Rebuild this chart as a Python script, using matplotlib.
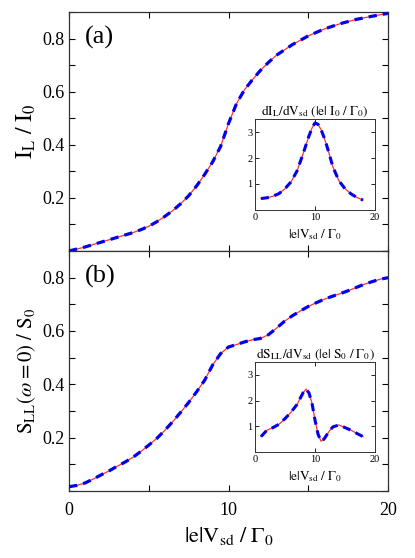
import matplotlib
matplotlib.use("Agg")
import matplotlib.pyplot as plt
from matplotlib.ticker import MultipleLocator, FixedLocator

plt.rcParams['font.family'] = ['Liberation Serif', 'DejaVu Serif']
plt.rcParams['mathtext.fontset'] = 'stix'

# panel (a): current vs bias
v_a = [0, 1, 2, 3, 4, 4.5, 5, 5.5, 6, 6.5, 7, 7.5, 8, 8.5, 9, 9.5, 10, 10.5,
       11, 11.5, 12, 12.5, 13, 13.5, 14, 15, 16, 17, 18, 19, 20]
il = [0.0, 0.015, 0.033, 0.051, 0.069, 0.08, 0.093, 0.11, 0.13, 0.152, 0.178,
      0.208, 0.245, 0.288, 0.335, 0.393, 0.48, 0.555, 0.607, 0.645, 0.68,
      0.71, 0.737, 0.757, 0.777, 0.81, 0.836, 0.856, 0.872, 0.884, 0.895]

# inset (a): dI/dV
v_ia = [1, 2, 3, 4, 5, 6, 7, 8, 8.5, 9, 9.5, 10, 10.5, 11, 11.5, 12, 13, 14,
        15, 16, 17, 18]
didv = [0.44, 0.47, 0.53, 0.63, 0.82, 1.08, 1.5, 2.15, 2.5, 2.85, 3.15, 3.35,
        3.3, 3.1, 2.8, 2.45, 1.65, 1.12, 0.82, 0.62, 0.48, 0.38]

# panel (b): zero-frequency noise vs bias
v_b = [0, 0.5, 1, 1.5, 2, 2.5, 3, 3.5, 4, 4.5, 5, 5.5, 6, 6.5, 7, 7.5, 8, 8.5,
       9, 9.5, 10, 10.5, 11, 11.5, 12, 12.5, 13, 13.5, 14, 14.5, 15, 15.5, 16,
       16.5, 17, 17.5, 18, 18.5, 19, 19.5, 20]
sll = [0.016, 0.021, 0.03, 0.044, 0.06, 0.075, 0.092, 0.108, 0.126, 0.148,
       0.172, 0.197, 0.227, 0.26, 0.295, 0.332, 0.372, 0.415, 0.472, 0.515,
       0.54, 0.549, 0.559, 0.567, 0.572, 0.586, 0.61, 0.636, 0.657, 0.675,
       0.692, 0.706, 0.719, 0.73, 0.74, 0.751, 0.763, 0.775, 0.785, 0.794,
       0.8]

# inset (b): dS/dV
v_ib = [1, 2, 3, 4, 5, 6, 7, 8, 8.5, 9, 9.5, 10, 10.5, 11, 11.5, 12, 12.5, 13,
        14, 15, 16, 17, 18]
dsdv = [0.6, 0.85, 0.95, 1.08, 1.3, 1.55, 1.85, 2.3, 2.45, 2.3, 1.9, 1.25,
        0.7, 0.42, 0.5, 0.68, 0.85, 0.98, 1.05, 0.95, 0.85, 0.72, 0.6]

red = '#ff3030'
blue = '#0000ee'


def curves(ax, x, y, lw=2.3):
    ax.plot(x, y, color=red, lw=0.9, zorder=2)
    ax.plot(x, y, color=blue, lw=lw, dashes=(2.6, 1.9), zorder=3)


def style_main(ax):
    ax.set_xlim(0, 20)
    ax.set_ylim(0, 0.9)
    ax.xaxis.set_major_locator(FixedLocator([0, 10, 20]))
    ax.xaxis.set_minor_locator(MultipleLocator(5))
    ax.yaxis.set_major_locator(FixedLocator([0.2, 0.4, 0.6, 0.8]))
    ax.yaxis.set_minor_locator(MultipleLocator(0.1))
    ax.tick_params(which='both', direction='in', top=True, right=True,
                   labelsize=13, length=4, width=0.8)
    ax.tick_params(axis='x', pad=8)
    for s in ax.spines.values():
        s.set_linewidth(0.9)
        s.set_color('#333333')


def style_inset(ax):
    ax.set_xlim(0, 20)
    ax.set_ylim(0, 3.5)
    ax.set_xticks([0, 10, 20])
    ax.set_yticks([1, 2, 3])
    ax.tick_params(direction='in', top=True, right=True, labelsize=7.5,
                   length=3, width=0.6, pad=2)
    for s in ax.spines.values():
        s.set_linewidth(0.7)
        s.set_color('#333333')


fig = plt.figure(figsize=(4.15, 5.58), dpi=100)

ax1 = fig.add_axes([0.1663, 0.5502, 0.7687, 0.4283])
curves(ax1, v_a, il)
style_main(ax1)
ax1.tick_params(axis='x', labelbottom=False)
ax1.set_ylabel(r'$\mathrm{I_L\ /\ I_0}$', fontsize=17, labelpad=3)
ax1.text(0.05, 0.895, '(a)', transform=ax1.transAxes, fontsize=19,
         va='center', ha='left')

ax2 = fig.add_axes([0.1663, 0.1201, 0.7687, 0.4301])
curves(ax2, v_b, sll)
style_main(ax2)
ax2.set_ylabel(r'$\mathrm{S_{LL}(}\omega{=}\mathrm{0)\ /\ S_0}$', fontsize=15,
               labelpad=3)
ax2.set_xlabel(r'$\mathrm{|e|V_{sd}\ /\ \Gamma_0}$', fontsize=16, labelpad=4)
ax2.text(0.05, 0.895, '(b)', transform=ax2.transAxes, fontsize=19,
         va='center', ha='left')

ins1 = fig.add_axes([0.6145, 0.6237, 0.289, 0.163])
curves(ins1, v_ia, didv, lw=2.2)
style_inset(ins1)
ins1.set_title(r'$\mathrm{dI_L/dV_{sd}\ (|e|\ I_0\ /\ \Gamma_0)}$',
               fontsize=9.5, pad=3)
ins1.set_xlabel(r'$\mathrm{|e|V_{sd}\ /\ \Gamma_0}$', fontsize=9.5,
                labelpad=4)

ins2 = fig.add_axes([0.6145, 0.19, 0.289, 0.161])
curves(ins2, v_ib, dsdv, lw=2.2)
style_inset(ins2)
ins2.set_title(r'$\mathrm{dS_{LL}/dV_{sd}\ (|e|\ S_0\ /\ \Gamma_0)}$',
               fontsize=9.5, pad=3)
ins2.set_xlabel(r'$\mathrm{|e|V_{sd}\ /\ \Gamma_0}$', fontsize=9.5,
                labelpad=4)

fig.savefig('out.png', dpi=100)
